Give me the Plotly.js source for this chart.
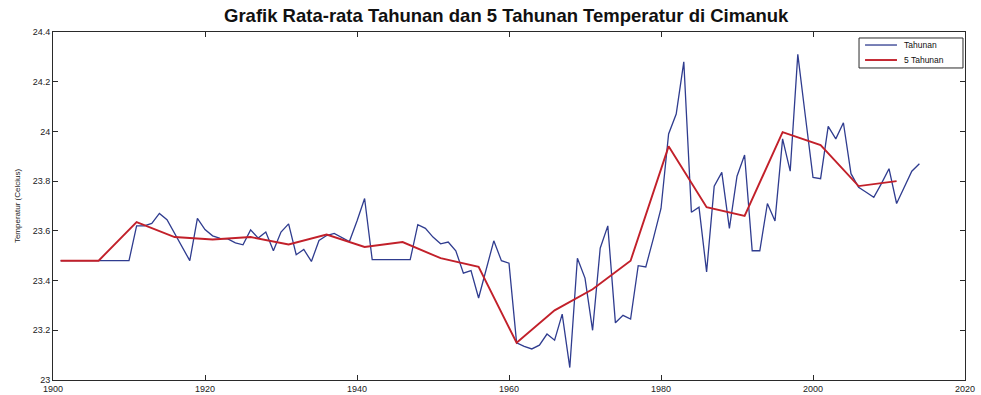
<!DOCTYPE html>
<html>
<head>
<meta charset="utf-8">
<script src="https://cdn.plot.ly/plotly-3.0.1.min.js"></script>
<style>
  html, body { margin: 0; padding: 0; background: #ffffff; }
  #chart { width: 981px; height: 395px; }
</style>
</head>
<body>
<div id="chart"></div>
<script>
// Annual mean temperature (°C), one value per year starting in 1901
const firstYear = 1901;
const annualTemp = [
  // 1901-1910
  23.48, 23.48, 23.48, 23.48, 23.48, 23.48, 23.48, 23.48, 23.48, 23.48,
  // 1911-1920
  23.62, 23.62, 23.63, 23.67, 23.645, 23.59, 23.535, 23.48, 23.65, 23.605,
  // 1921-1930
  23.58, 23.57, 23.568, 23.552, 23.544, 23.604, 23.571, 23.595, 23.52, 23.595,
  // 1931-1940
  23.628, 23.504, 23.525, 23.477, 23.561, 23.581, 23.59, 23.575, 23.557, 23.64,
  // 1941-1950
  23.73, 23.484, 23.484, 23.484, 23.484, 23.484, 23.484, 23.625, 23.61, 23.575,
  // 1951-1960
  23.548, 23.555, 23.52, 23.43, 23.44, 23.33, 23.445, 23.56, 23.48, 23.47,
  // 1961-1970
  23.15, 23.135, 23.125, 23.14, 23.185, 23.16, 23.265, 23.05, 23.49, 23.41,
  // 1971-1980
  23.20, 23.53, 23.62, 23.23, 23.26, 23.245, 23.46, 23.455, 23.57, 23.69,
  // 1981-1990
  23.99, 24.07, 24.28, 23.675, 23.695, 23.435, 23.78, 23.835, 23.61, 23.82,
  // 1991-2000
  23.905, 23.52, 23.52, 23.71, 23.64, 23.97, 23.84, 24.31, 24.06, 23.815,
  // 2001-2010
  23.81, 24.02, 23.97, 24.035, 23.83, 23.775, 23.755, 23.735, 23.79, 23.85,
  // 2011-2014
  23.71, 23.775, 23.84, 23.87
];
const annualYears = annualTemp.map((_, i) => firstYear + i);

// Five-year mean temperature (°C)
const fiveYearYears = [1901, 1906, 1911, 1916, 1921, 1926, 1931, 1936, 1941, 1946, 1951, 1956,
                       1961, 1966, 1971, 1976, 1981, 1986, 1991, 1996, 2001, 2006, 2011];
const fiveYearTemp = [23.48, 23.48, 23.635, 23.575, 23.565, 23.575, 23.545, 23.585, 23.535, 23.555, 23.49, 23.455,
                      23.15, 23.28, 23.365, 23.48, 23.94, 23.695, 23.66, 23.997, 23.945, 23.78, 23.80];

// Axis ticks
const xTicks = [1900, 1920, 1940, 1960, 1980, 2000, 2020];
const yTicks = [23, 23.2, 23.4, 23.6, 23.8, 24, 24.2, 24.4];
const yTickLabels = ['23', '23.2', '23.4', '23.6', '23.8', '24', '24.2', '24.4'];

// Series names and colours
const seriesNames = ['Tahunan', '5 Tahunan'];
const seriesColors = ['#2f3c8f', '#c2202a'];
const seriesWidths = [1.3, 1.9];

const font = 'Liberation Sans, Arial, Helvetica, sans-serif';
const frame = '#2a2a2a';

const traces = [
  {
    x: annualYears, y: annualTemp, name: seriesNames[0],
    type: 'scatter', mode: 'lines', showlegend: false,
    line: { color: seriesColors[0], width: seriesWidths[0] }
  },
  {
    x: fiveYearYears, y: fiveYearTemp, name: seriesNames[1],
    type: 'scatter', mode: 'lines', showlegend: false,
    line: { color: seriesColors[1], width: seriesWidths[1] }
  }
];

// Compact boxed key in the upper-right corner of the axes (paper coordinates)
const key = { x0: 0.8838, x1: 0.9978, y0: 0.8966, y1: 0.9828,
              lineX0: 0.8904, lineX1: 0.9254, textX: 0.9309, rows: [0.9626, 0.9195] };
const keyShapes = [
  { type: 'rect', xref: 'paper', yref: 'paper', x0: key.x0, x1: key.x1, y0: key.y0, y1: key.y1,
    line: { color: frame, width: 1 }, fillcolor: '#ffffff', layer: 'above' }
];
const keyLabels = [];
seriesNames.forEach((name, i) => {
  keyShapes.push({ type: 'line', xref: 'paper', yref: 'paper',
    x0: key.lineX0, x1: key.lineX1, y0: key.rows[i], y1: key.rows[i],
    line: { color: seriesColors[i], width: seriesWidths[i] }, layer: 'above' });
  keyLabels.push({ xref: 'paper', yref: 'paper', x: key.textX, y: key.rows[i],
    xanchor: 'left', yanchor: 'middle', showarrow: false, text: name,
    font: { family: font, size: 8.5, color: '#111111' } });
});

const layout = {
  width: 981, height: 395,
  margin: { l: 53, r: 16, t: 32, b: 15 },
  paper_bgcolor: '#ffffff', plot_bgcolor: '#ffffff',
  font: { family: font, color: '#111111' },
  title: {
    text: '<b>Grafik Rata-rata Tahunan dan 5 Tahunan Temperatur di Cimanuk</b>',
    font: { family: font, size: 18.5, color: '#111111' },
    x: 0.516, xanchor: 'center', xref: 'container',
    y: 0.96, yanchor: 'middle', yref: 'container'
  },
  xaxis: {
    range: [1900, 2020], tickvals: xTicks,
    ticks: 'inside', ticklen: 5, tickwidth: 1, tickcolor: frame,
    showline: true, linecolor: frame, linewidth: 1, mirror: 'ticks',
    showgrid: false, zeroline: false,
    tickfont: { family: font, size: 9, color: '#222222' }
  },
  yaxis: {
    range: [23, 24.4], tickvals: yTicks, ticktext: yTickLabels,
    ticks: 'inside', ticklen: 5, tickwidth: 1, tickcolor: frame,
    showline: true, linecolor: frame, linewidth: 1, mirror: 'ticks',
    showgrid: false, zeroline: false,
    tickfont: { family: font, size: 9, color: '#222222' },
    title: { text: 'Temperatur (Celcius)', font: { family: font, size: 8, color: '#222222' }, standoff: 10 }
  },
  showlegend: false,
  shapes: keyShapes,
  annotations: keyLabels
};

Plotly.newPlot('chart', traces, layout, { staticPlot: true, displayModeBar: false });
</script>
</body>
</html>
